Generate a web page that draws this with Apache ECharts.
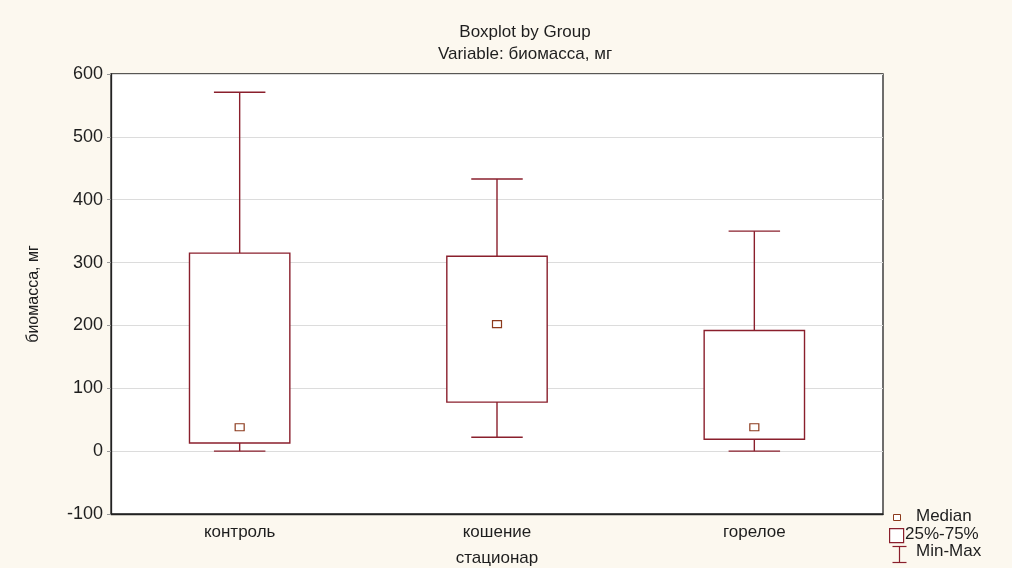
<!DOCTYPE html>
<html>
<head>
<meta charset="utf-8">
<script src="https://cdn.jsdelivr.net/npm/echarts@6/dist/echarts.min.js"></script>
<style>
  html, body { margin: 0; padding: 0; background: #fcf8ef; }
  #chart { width: 1012px; height: 568px; }
</style>
</head>
<body>
<div id="chart"></div>
<script>
// Group names (stations)
const categories = ['контроль', 'кошение', 'горелое'];
// Summary statistics per group, mg
const minValues    = [0, 22, 0];
const q1Values     = [13, 78, 19];
const medianValues = [38, 202, 38];
const q3Values     = [315, 310, 192];
const maxValues    = [571, 433, 350];
// Y axis range
const yMin = -100, yMax = 600, yStep = 100;

const boxColor = '#8a1f2c';
const medianColor = '#8c3a1c';
const fontFamily = '"Liberation Sans", Arial, sans-serif';
const textColor = '#1e1e1e';

const rows = categories.map((c, i) => [i, minValues[i], q1Values[i], medianValues[i], q3Values[i], maxValues[i]]);

function renderBox(params, api) {
  const idx = api.value(0);
  const pMin = api.coord([idx, api.value(1)]);
  const pQ1 = api.coord([idx, api.value(2)]);
  const pMed = api.coord([idx, api.value(3)]);
  const pQ3 = api.coord([idx, api.value(4)]);
  const pMax = api.coord([idx, api.value(5)]);
  const band = api.size([1, 0])[0];
  const boxW = band * 0.39;
  const capW = band * 0.2;
  const x = pMed[0];
  const lineStyle = { stroke: boxColor, lineWidth: 1.4, fill: null };
  return {
    type: 'group',
    children: [
      { type: 'line', shape: { x1: x, y1: pMax[1], x2: x, y2: pQ3[1] }, style: lineStyle },
      { type: 'line', shape: { x1: x, y1: pQ1[1], x2: x, y2: pMin[1] }, style: lineStyle },
      { type: 'line', shape: { x1: x - capW / 2, y1: pMax[1], x2: x + capW / 2, y2: pMax[1] }, style: lineStyle },
      { type: 'line', shape: { x1: x - capW / 2, y1: pMin[1], x2: x + capW / 2, y2: pMin[1] }, style: lineStyle },
      { type: 'rect', shape: { x: x - boxW / 2, y: pQ3[1], width: boxW, height: pQ1[1] - pQ3[1] },
        style: { stroke: boxColor, lineWidth: 1.4, fill: '#ffffff' } },
      { type: 'rect', shape: { x: x - 4.5, y: pMed[1] - 3.5, width: 9, height: 7 },
        style: { stroke: medianColor, lineWidth: 1.2, fill: '#ffffff' } }
    ]
  };
}

const chart = echarts.init(document.getElementById('chart'));
chart.setOption({
  backgroundColor: '#fcf8ef',
  animation: false,
  title: {
    text: 'Boxplot by Group',
    subtext: 'Variable: биомасса, мг',
    left: 520,
    textAlign: 'center',
    top: 19,
    itemGap: 5,
    textStyle: { fontFamily, fontSize: 17, fontWeight: 'normal', color: textColor },
    subtextStyle: { fontFamily, fontSize: 17, color: textColor }
  },
  grid: {
    left: 111, right: 129, top: 74, bottom: 54,
    outerBoundsMode: 'none', containLabel: false,
    show: true, backgroundColor: '#ffffff', borderColor: '#222', borderWidth: 1.3
  },
  xAxis: {
    type: 'category',
    data: categories,
    name: 'стационар',
    nameLocation: 'middle',
    nameGap: 36,
    nameTextStyle: { fontFamily, fontSize: 17, color: textColor },
    axisLine: { onZero: false, lineStyle: { color: '#222', width: 1.3 } },
    axisTick: { alignWithLabel: true, inside: true, length: 4, lineStyle: { color: '#aaa' } },
    axisLabel: { fontFamily, fontSize: 17, color: textColor, margin: 10 },
    splitLine: { show: false }
  },
  yAxis: {
    type: 'value',
    min: yMin, max: yMax, interval: yStep,
    name: 'биомасса, мг',
    nameLocation: 'middle',
    nameGap: 69,
    nameRotate: 90,
    nameTextStyle: { fontFamily, fontSize: 16, color: textColor },
    axisLine: { show: true, lineStyle: { color: '#222', width: 1.3 } },
    axisTick: { show: true, length: 4, lineStyle: { color: '#999' } },
    axisLabel: { fontFamily, fontSize: 18, color: textColor, margin: 8 },
    splitLine: { show: true, lineStyle: { color: '#dcdcdc', width: 1 } }
  },
  series: [{
    type: 'custom',
    renderItem: renderBox,
    encode: { x: 0, y: [1, 2, 3, 4, 5] },
    data: rows,
    clip: false
  }],
  graphic: [
    { type: 'rect', left: 893, top: 514, shape: { width: 7, height: 6 }, style: { stroke: medianColor, fill: '#fff', lineWidth: 1 } },
    { type: 'text', left: 916, top: 508, style: { text: 'Median', font: '17px "Liberation Sans", Arial', fill: textColor } },
    { type: 'rect', left: 889, top: 528, shape: { width: 14, height: 14 }, style: { stroke: boxColor, fill: '#fff', lineWidth: 1.2 } },
    { type: 'text', left: 905, top: 526, style: { text: '25%-75%', font: '17px "Liberation Sans", Arial', fill: textColor } },
    { type: 'group', left: 890, top: 544, children: [
      { type: 'line', shape: { x1: 0, y1: 0, x2: 14, y2: 0 }, style: { stroke: boxColor, lineWidth: 1.2 } },
      { type: 'line', shape: { x1: 7, y1: 0, x2: 7, y2: 16 }, style: { stroke: boxColor, lineWidth: 1.2 } },
      { type: 'line', shape: { x1: 0, y1: 16, x2: 14, y2: 16 }, style: { stroke: boxColor, lineWidth: 1.2 } }
    ] },
    { type: 'text', left: 916, top: 543, style: { text: 'Min-Max', font: '17px "Liberation Sans", Arial', fill: textColor } }
  ]
});
</script>
</body>
</html>
